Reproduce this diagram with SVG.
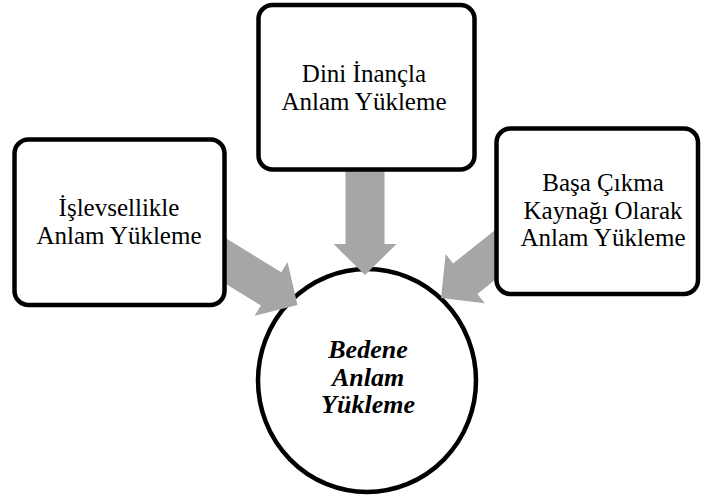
<svg xmlns="http://www.w3.org/2000/svg" xmlns:xlink="http://www.w3.org/1999/xlink" width="701" height="495" viewBox="0 0 701 495">
<defs>
<style>
.box{fill:#fff;stroke:#000;stroke-width:4.5}
.t{font-family:"Liberation Serif","Times New Roman",serif;font-size:25px;fill:#000;text-anchor:middle}
.c{font-family:"Liberation Serif","Times New Roman",serif;font-size:26px;font-weight:bold;font-style:italic;fill:#000;text-anchor:middle}
.arr{fill:#a6a6a6}
</style>
<path id="arrow" d="M-115,-19.5 L-31,-19.5 L-31,-31.5 L0,0 L-31,31.5 L-31,19.5 L-115,19.5 Z"/>
</defs>
<rect width="701" height="495" fill="#fff"/>
<g id="center">
<ellipse cx="367" cy="380.5" rx="109" ry="111.5" fill="#fff" stroke="#000" stroke-width="4.5"/>
<text class="c" x="368" y="358">Bedene</text>
<text class="c" x="368" y="386">Anlam</text>
<text class="c" x="368" y="413">Yükleme</text>
</g>
<g id="connectors" class="arr">
<use xlink:href="#arrow" transform="translate(365,275) rotate(90)"/>
<use xlink:href="#arrow" transform="translate(297.5,305) rotate(31.5)"/>
<use xlink:href="#arrow" transform="translate(441,298) rotate(141.5)"/>
</g>
<g id="left">
<rect class="box" x="14.5" y="139.5" width="210" height="165.5" rx="14"/>
<text class="t" x="119" y="216">İşlevsellikle</text>
<text class="t" x="119" y="244">Anlam Yükleme</text>
</g>
<g id="top">
<rect class="box" x="258.5" y="5" width="216" height="164.5" rx="14"/>
<text class="t" x="364" y="82">Dini İnançla</text>
<text class="t" x="364" y="110">Anlam Yükleme</text>
</g>
<g id="right">
<rect class="box" x="496.5" y="128.5" width="201.5" height="165.5" rx="14"/>
<text class="t" x="603" y="191">Başa Çıkma</text>
<text class="t" x="603" y="218.5">Kaynağı Olarak</text>
<text class="t" x="603" y="246">Anlam Yükleme</text>
</g>
</svg>
